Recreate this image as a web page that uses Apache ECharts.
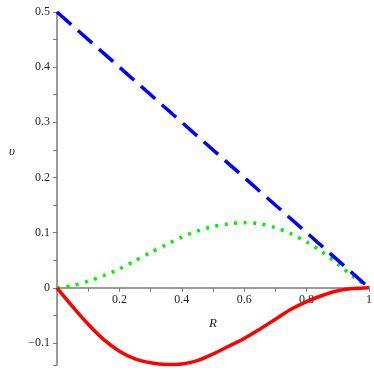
<!DOCTYPE html>
<html>
<head>
<meta charset="UTF-8">
<title>v vs R</title>
<script src="https://cdn.jsdelivr.net/npm/echarts@6/dist/echarts.min.js"></script>
<style>
  html, body { margin: 0; padding: 0; background: #fff; }
  #main { width: 374px; height: 374px; }
</style>
</head>
<body>
<div id="main"></div>
<script>
// values, R in steps of 0.05
var rValues = [0, 0.05, 0.1, 0.15, 0.2, 0.25, 0.3, 0.35, 0.4, 0.45, 0.5,
               0.55, 0.6, 0.65, 0.7, 0.75, 0.8, 0.85, 0.9, 0.95, 1];
var redValues = [0, -0.034, -0.066, -0.094, -0.115, -0.129, -0.136, -0.139, -0.138, -0.132, -0.120,
                 -0.106, -0.092, -0.075, -0.057, -0.039, -0.025, -0.014, -0.0055, -0.0015, 0];
var greenValues = [0, 0.004, 0.012, 0.022, 0.034, 0.049, 0.064, 0.078, 0.092, 0.103, 0.111,
                   0.116, 0.118, 0.116, 0.109, 0.098, 0.083, 0.065, 0.043, 0.020, 0];
var blueR = [0, 1];
var blueValues = [0.5, 0];

var yMin = -0.14, yMax = 0.5;

function pairs(xs, ys) {
    return xs.map(function (x, i) { return [x, ys[i]]; });
}

var serif = "'Liberation Serif', 'Times New Roman', serif";
var axisGray = '#7a7a7a';
var gridTop = 12, gridBottom = 9, H = 374;
// lift the x axis from the grid's bottom edge up to v = 0
var plotH = H - gridTop - gridBottom;
var xAxisLift = -plotH * (0 - yMin) / (yMax - yMin);

var myChart = echarts.init(document.getElementById('main'));
var option = {
    animation: false,
    grid: { left: 57, right: 5, top: gridTop, bottom: gridBottom, outerBoundsMode: 'none', containLabel: false },
    xAxis: {
        type: 'value',
        min: 0, max: 1, interval: 0.2,
        offset: xAxisLift,
        name: 'R',
        nameLocation: 'middle',
        nameGap: 29,
        nameTextStyle: { fontFamily: serif, fontStyle: 'italic', fontSize: 13, color: '#222' },
        axisLine: { onZero: false, lineStyle: { color: axisGray, width: 1.5 } },
        axisTick: { length: 4, lineStyle: { color: axisGray } },
        minorTick: { show: true, splitNumber: 2, length: 4, lineStyle: { color: axisGray } },
        axisLabel: { showMinLabel: false, margin: 6, fontFamily: serif, fontSize: 12, color: '#222' },
        splitLine: { show: false }
    },
    yAxis: {
        type: 'value',
        min: yMin, max: yMax, splitNumber: 6,
        axisLine: { onZero: false, lineStyle: { color: axisGray, width: 1.5 } },
        axisTick: { length: 4, lineStyle: { color: axisGray } },
        minorTick: { show: true, splitNumber: 2, length: 4, lineStyle: { color: axisGray } },
        axisLabel: {
            showMinLabel: false, margin: 7, fontFamily: serif, fontSize: 12, color: '#222',
            formatter: function (v) { return String(v).replace('-', '\u2212'); }
        },
        splitLine: { show: false }
    },
    graphic: [{
        type: 'text', left: 9, top: 145,
        style: { text: '\u03c5', font: 'italic 13px ' + serif, fill: '#222' }
    }],
    series: [
        {
            type: 'line', data: pairs(rValues, greenValues), smooth: 0.3,
            showSymbol: false,
            lineStyle: { color: '#00f000', width: 3.5, type: [3, 6.5] }
        },
        {
            type: 'line', data: pairs(blueR, blueValues),
            showSymbol: false,
            lineStyle: { color: '#0000ff', width: 3.5, type: [19, 9] }
        },
        {
            type: 'line', data: pairs(rValues, redValues), smooth: 0.3,
            showSymbol: false,
            lineStyle: { color: '#ff0000', width: 3.5 }
        }
    ]
};
myChart.setOption(option);
</script>
</body>
</html>
